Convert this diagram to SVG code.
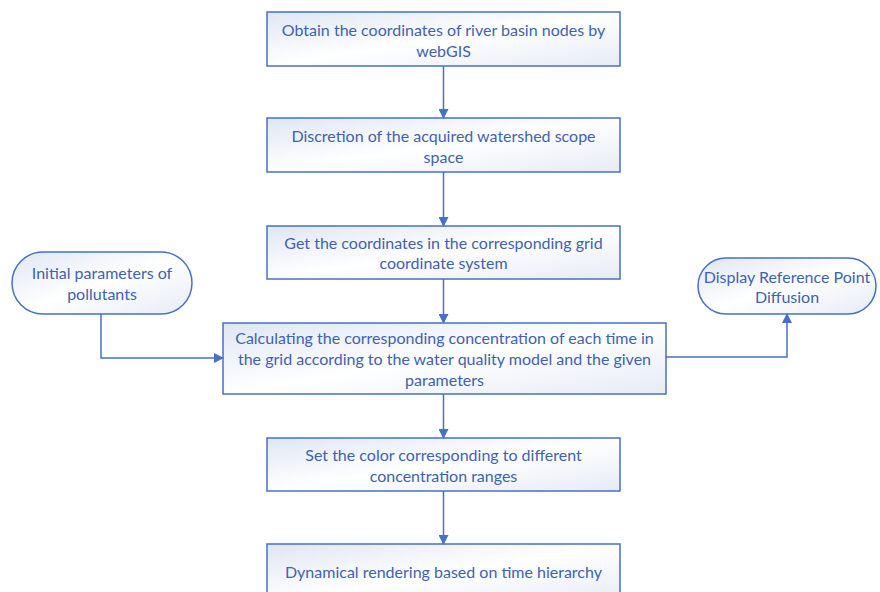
<svg xmlns="http://www.w3.org/2000/svg" width="880" height="592" viewBox="0 0 880 592">
<defs>
<linearGradient id="g" x1="0" y1="0" x2="1" y2="1">
<stop offset="0" stop-color="#dfe6f3"/>
<stop offset="0.5" stop-color="#ffffff"/>
<stop offset="1" stop-color="#e6ebf5"/>
</linearGradient>
<marker id="arr" viewBox="0 0 10 10" refX="9" refY="5" markerWidth="10" markerHeight="10" markerUnits="userSpaceOnUse" orient="auto">
<path d="M0,0 L10,5 L0,10 z" fill="#4472c4"/>
</marker>
<style>
.box{fill:url(#g);stroke:#4472c4;stroke-width:1.5}
.t{font-family:Lato,"Liberation Sans",sans-serif;font-size:16px;fill:#3f62b0;text-anchor:middle}
.c{fill:none;stroke:#4472c4;stroke-width:1.5;marker-end:url(#arr)}
</style>
</defs>
<rect width="880" height="592" fill="#ffffff"/>
<g id="n1"><rect class="box" x="267" y="12" width="353" height="54"/>
<text class="t" x="443.5" y="36">Obtain the coordinates of river basin nodes by</text>
<text class="t" x="443.5" y="57">webGIS</text></g>
<g id="n2"><rect class="box" x="267" y="118" width="353" height="54"/>
<text class="t" x="443.5" y="142">Discretion of the acquired watershed scope</text>
<text class="t" x="443.5" y="163">space</text></g>
<g id="n3"><rect class="box" x="267" y="226" width="353" height="53"/>
<text class="t" x="443.5" y="249">Get the coordinates in the corresponding grid</text>
<text class="t" x="443.5" y="269">coordinate system</text></g>
<g id="n4"><rect class="box" x="223" y="323" width="443" height="71"/>
<text class="t" x="444.5" y="344">Calculating the corresponding concentration of each time in</text>
<text class="t" x="444.5" y="365">the grid according to the water quality model and the given</text>
<text class="t" x="444.5" y="386">parameters</text></g>
<g id="n5"><rect class="box" x="267" y="438" width="353" height="53"/>
<text class="t" x="443.5" y="461">Set the color corresponding to different</text>
<text class="t" x="443.5" y="482">concentration ranges</text></g>
<g id="n6"><rect class="box" x="267" y="544" width="353" height="60"/>
<text class="t" x="443.5" y="578">Dynamical rendering based on time hierarchy</text></g>
<g id="o1"><rect class="box" x="12" y="252" width="180" height="62" rx="31" ry="31"/>
<text class="t" x="102" y="279">Initial parameters of</text>
<text class="t" x="102" y="300">pollutants</text></g>
<g id="o2"><rect class="box" x="698" y="258" width="178" height="56" rx="28" ry="28"/>
<text class="t" x="787" y="283">Display Reference Point</text>
<text class="t" x="787" y="303">Diffusion</text></g>
<g id="connectors">
<path class="c" d="M443.5,66 V118"/>
<path class="c" d="M443.5,172 V226"/>
<path class="c" d="M443.5,279 V323"/>
<path class="c" d="M443.5,394 V438"/>
<path class="c" d="M443.5,491 V544"/>
<path class="c" d="M101,314 V358 H223"/>
<path class="c" d="M666,357 H787 V314"/>
</g>
</svg>
